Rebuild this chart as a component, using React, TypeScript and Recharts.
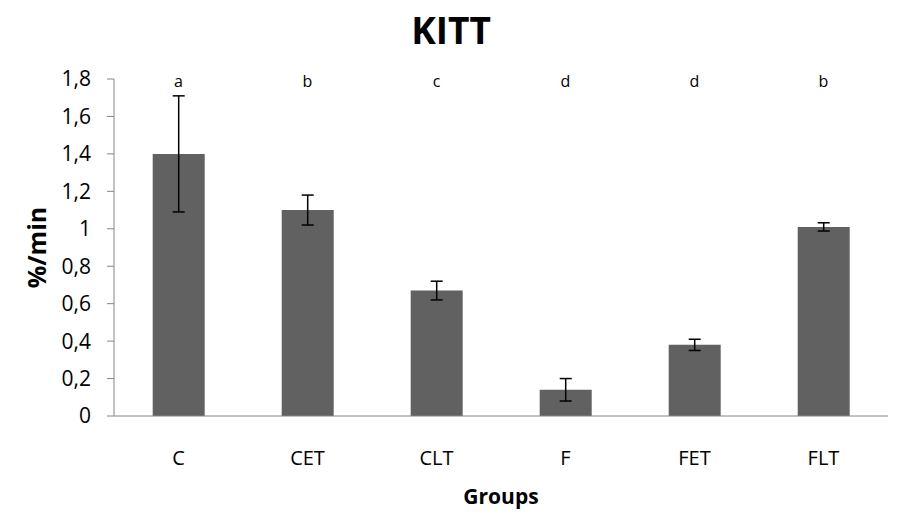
import { BarChart, Bar, XAxis, YAxis, ErrorBar, ReferenceDot } from "recharts";

const groups = ["C", "CET", "CLT", "F", "FET", "FLT"];
const rates = [1.4, 1.1, 0.67, 0.14, 0.38, 1.01];
const errors = [0.31, 0.08, 0.05, 0.06, 0.03, 0.022];
const letters = ["a", "b", "c", "d", "d", "b"];
const yTicks = [0, 0.2, 0.4, 0.6, 0.8, 1, 1.2, 1.4, 1.6, 1.8];

const FONT = "'Open Sans', 'Liberation Sans', sans-serif";
const AXIS = "#868686";
const BAR = "#616161";

const data = groups.map((g, i) => ({ group: g, rate: rates[i], err: errors[i] }));

const fmt = (v: number) => String(v).replace(".", ",");

export default function App() {
  return (
    <div style={{ position: "absolute", left: 0, top: 0, width: 902, height: 529, background: "#fff", fontFamily: FONT }}>
      <div
        style={{
          position: "absolute",
          left: 0,
          top: 6,
          width: 902,
          textAlign: "center",
          fontSize: 37,
          fontWeight: 700,
          lineHeight: "48px",
          color: "#000",
        }}
      >
        KITT
      </div>
      <BarChart
        width={902}
        height={529}
        data={data}
        margin={{ top: 79, right: 14, bottom: 0, left: 0 }}
        barCategoryGap="30%"
      >
        <YAxis
          width={114}
          domain={[0, 1.8]}
          ticks={yTicks}
          tickFormatter={fmt}
          stroke={AXIS}
          tickSize={7}
          tickMargin={16}
          tick={{ fill: "#000", fontSize: 21, fontFamily: FONT }}
          label={{
            content: ({ viewBox }: any) => (
              <text
                x={viewBox.x + 36}
                y={viewBox.y + viewBox.height / 2}
                transform={`rotate(-90, ${viewBox.x + 36}, ${viewBox.y + viewBox.height / 2})`}
                textAnchor="middle"
                dominantBaseline="central"
                fontSize={25}
                fontWeight={700}
                fontFamily={FONT}
                fill="#000"
              >
                %/min
              </text>
            ),
          }}
        />
        <XAxis
          dataKey="group"
          height={113}
          stroke={AXIS}
          tickLine={false}
          tickMargin={29}
          tick={{ fill: "#000", fontSize: 20, fontFamily: FONT }}
          label={{
            content: ({ viewBox }: any) => (
              <text
                x={viewBox.x + viewBox.width / 2}
                y={viewBox.y + 80}
                textAnchor="middle"
                dominantBaseline="central"
                fontSize={21}
                fontWeight={700}
                fontFamily={FONT}
                fill="#000"
              >
                Groups
              </text>
            ),
          }}
        />
        <Bar dataKey="rate" fill={BAR} isAnimationActive={false}>
          <ErrorBar dataKey="err" width={6} stroke="#000" strokeWidth={1.5} isAnimationActive={false} />
        </Bar>
        {groups.map((g, i) => (
          <ReferenceDot
            key={g + i}
            x={g}
            y={1.79}
            r={0}
            fill="none"
            stroke="none"
            label={{ value: letters[i], position: "center", fontSize: 16, fontFamily: FONT, fill: "#000" }}
          />
        ))}
      </BarChart>
    </div>
  );
}
